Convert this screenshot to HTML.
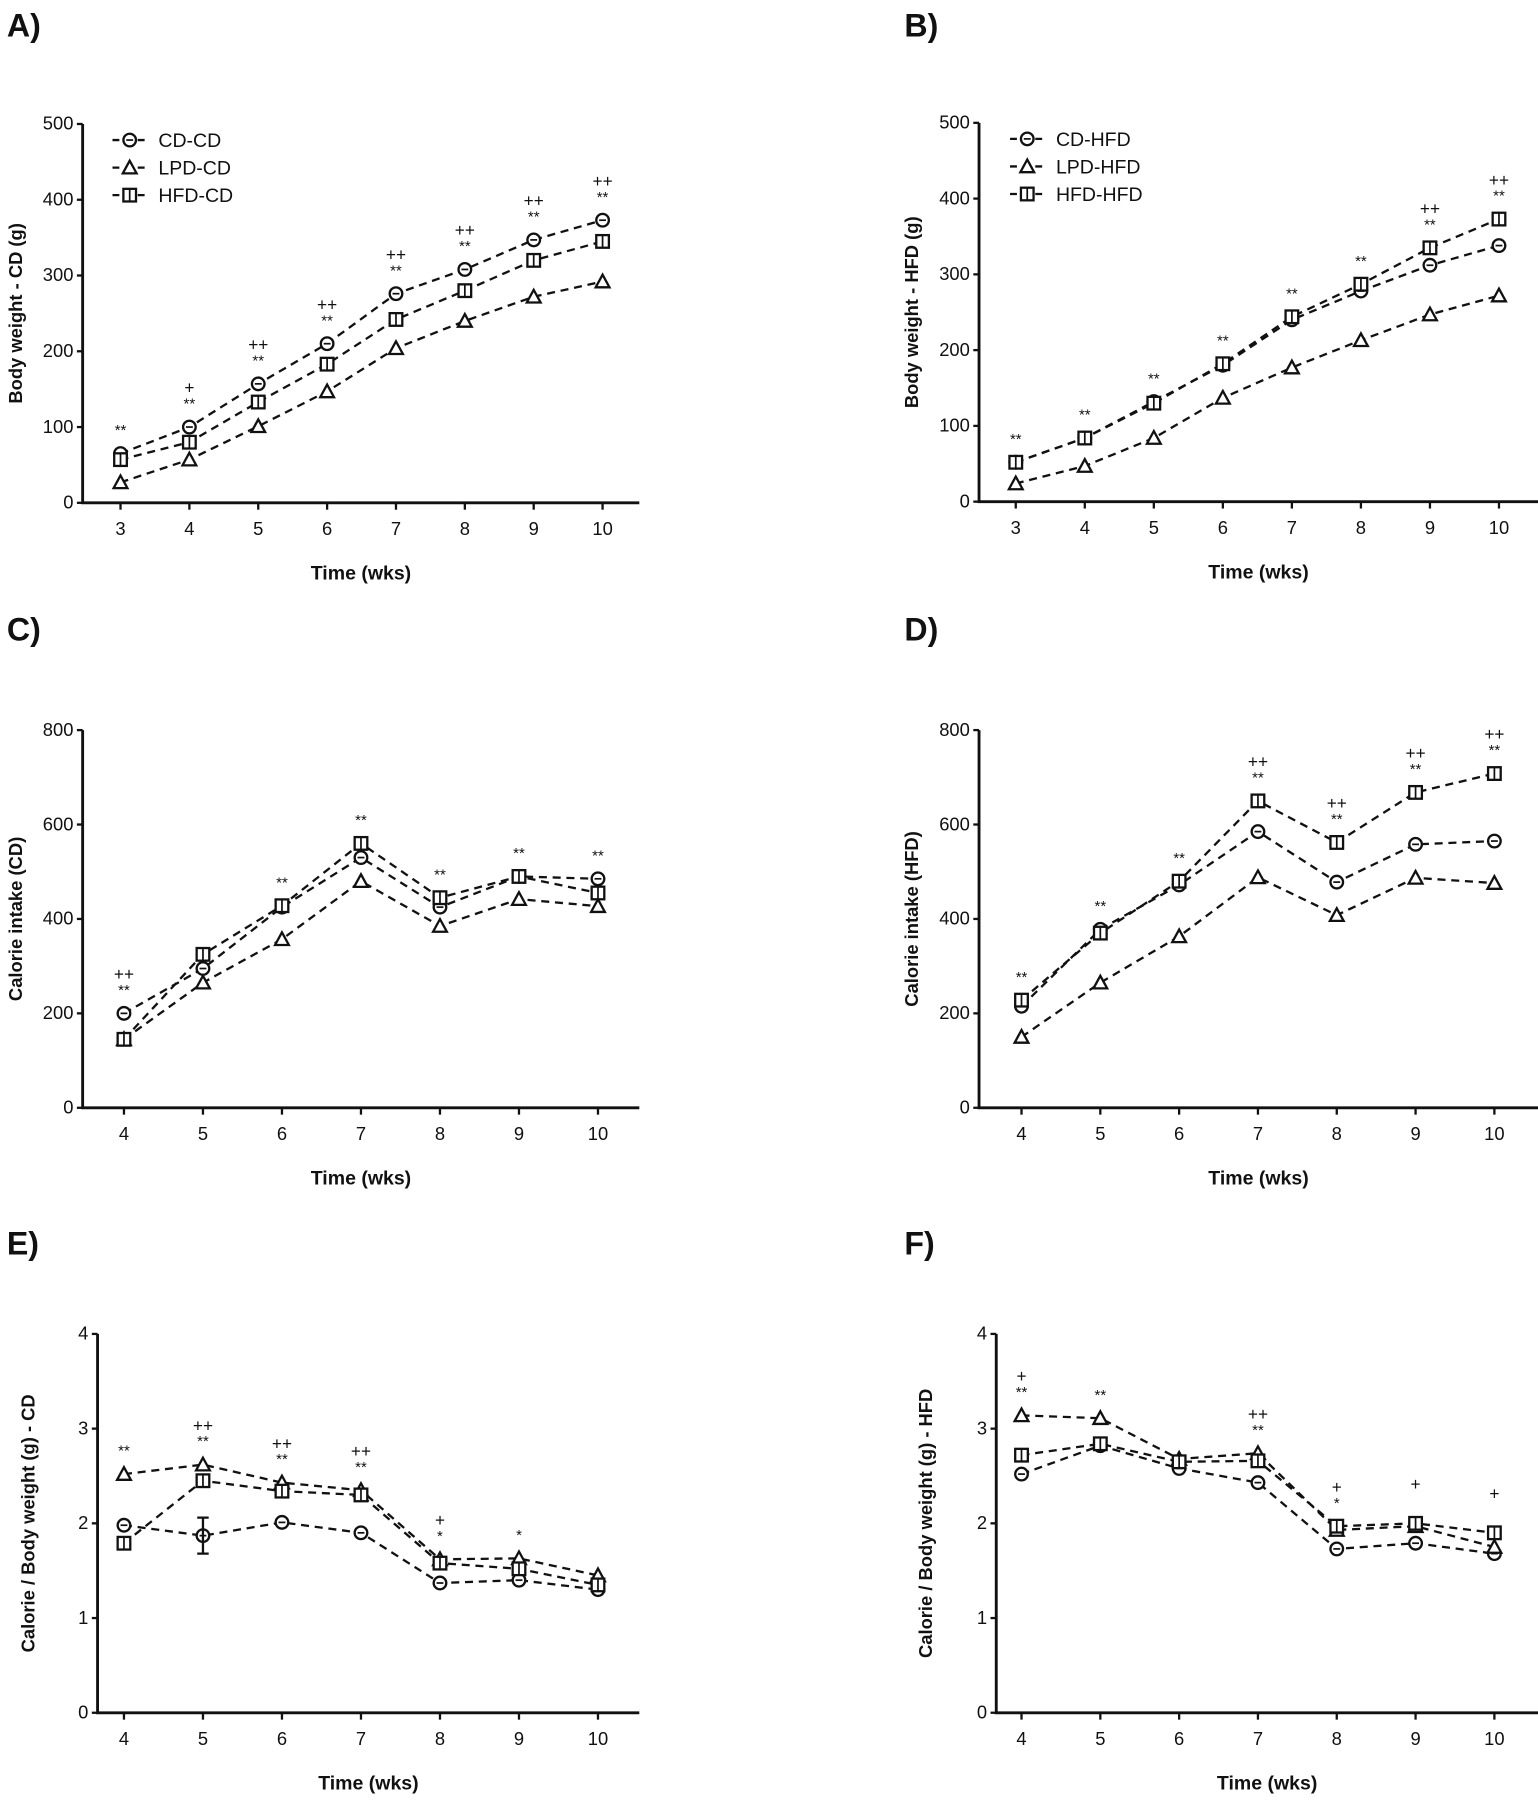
<!DOCTYPE html>
<html><head><meta charset="utf-8"><style>
html,body{margin:0;padding:0;background:#fff}
svg{display:block}
text{font-family:"Liberation Sans",sans-serif;fill:#111}
</style></head><body>
<svg id="fig" width="1538" height="1800" viewBox="0 0 1340 1568" preserveAspectRatio="none" xmlns="http://www.w3.org/2000/svg"></svg>
<script>
// ---- data ----
const weeksAB = [3,4,5,6,7,8,9,10];
const weeksCF = [4,5,6,7,8,9,10];
const aCD = [65,100,157,210,276,308,347,373];
const aLPD = [27,57,101,147,204,240,272,292];
const aHFD = [57,80,133,183,242,280,320,345];
const bCD = [52,84,132,180,240,278,312,338];
const bLPD = [24,47,84,137,177,213,247,272];
const bHFD = [52,84,130,182,244,287,335,373];
const cCD = [200,295,425,530,425,490,485];
const cLPD = [145,265,357,480,385,442,427];
const cHFD = [145,325,428,560,445,490,455];
const dCD = [215,378,472,585,478,558,565];
const dLPD = [150,265,363,488,408,487,476];
const dHFD = [228,370,480,650,562,668,708];
const eCD = [1.98,1.87,2.01,1.90,1.37,1.40,1.30];
const eLPD = [2.52,2.62,2.43,2.35,1.62,1.63,1.45];
const eHFD = [1.79,2.45,2.34,2.30,1.58,1.52,1.35];
const fCD = [2.52,2.82,2.58,2.43,1.73,1.79,1.68];
const fLPD = [3.14,3.11,2.68,2.74,1.93,1.97,1.75];
const fHFD = [2.72,2.84,2.65,2.66,1.97,2.00,1.90];
const aNotes = [["","**"],["+","**"],["++","**"],["++","**"],["++","**"],["++","**"],["++","**"],["++","**"]];
const bNotes = [["","**"],["","**"],["","**"],["","**"],["","**"],["","**"],["++","**"],["++","**"]];
const cNotes = [["++","**"],["",""],["","**"],["","**"],["","**"],["","**"],["","**"]];
const dNotes = [["","**"],["","**"],["","**"],["++","**"],["++","**"],["++","**"],["++","**"]];
const eNotes = [["","**"],["++","**"],["++","**"],["++","**"],["+","*"],["","*"],["",""]];
const fNotes = [["+","**"],["","**"],["",""],["++","**"],["+","*"],["+",""],["+",""]];
const ticksAB = [0,100,200,300,400,500];
const ticksCD = [0,200,400,600,800];
const ticksEF = [0,1,2,3,4];

const NS="http://www.w3.org/2000/svg";
const svg=document.getElementById('fig');
function el(tag,attrs,parent){const e=document.createElementNS(NS,tag);for(const k in attrs)e.setAttribute(k,attrs[k]);(parent||svg).appendChild(e);return e;}
function txt(s,attrs,parent){const t=el('text',attrs,parent);t.textContent=s;return t;}

function marker(g,type,x,y){
  if(type==='circle'){el('circle',{cx:x,cy:y,r:5.5,fill:'#fff',stroke:'#111','stroke-width':2},g);el('line',{x1:x-3,y1:y,x2:x+3,y2:y,stroke:'#111','stroke-width':1.5},g);}
  else if(type==='tri'){el('polygon',{points:`${x},${y-6} ${x-6},${y+5} ${x+6},${y+5}`,fill:'#fff',stroke:'#111','stroke-width':2},g);}
  else {el('rect',{x:x-5.5,y:y-5.5,width:11,height:11,fill:'#fff',stroke:'#111','stroke-width':2},g);el('line',{x1:x,y1:y-5,x2:x,y2:y+5,stroke:'#111','stroke-width':1.5},g);}
}

function panel(p){
  const g=el('g',{});
  
  
  const xs=v=>p.x0+(v-p.w0)/(p.w1-p.w0)*(p.x1-p.x0);
  const ys=v=>p.yb-(v/p.ymax)*(p.yb-p.yt);
  const lab=txt(p.letter,{x:p.lx,y:p.ly,'font-size':28,'font-weight':'bold'},g);
  
  const ax=el('path',{d:`M${p.ax},${p.yt} V${p.yb} H${p.axEnd}`,fill:'none',stroke:'#111','stroke-width':2.5},g);
  
  p.ticks.forEach(t=>{
    el('line',{x1:p.ax-5,x2:p.ax,y1:ys(t),y2:ys(t),stroke:'#111','stroke-width':2},g);
    const tt=txt(String(t),{x:p.ax-8,y:ys(t)+5,'font-size':16,'text-anchor':'end'},g);
    
  });
  p.weeks.forEach(w=>{
    el('line',{x1:xs(w),x2:xs(w),y1:p.yb,y2:p.yb+6,stroke:'#111','stroke-width':2},g);
    const tt=txt(String(w),{x:xs(w),y:p.yb+28,'font-size':16,'text-anchor':'middle'},g);
    
  });
  const xt=txt('Time (wks)',{x:(p.ax+p.axEnd)/2,y:p.yb+67,'font-size':17,'font-weight':'bold','text-anchor':'middle'},g);
  
  const cy=(p.yt+p.yb)/2;
  const yt=txt(p.ytitle,{x:p.ytx,y:cy,'font-size':16,'font-weight':'bold','text-anchor':'middle',transform:`rotate(-90 ${p.ytx} ${cy})`},g);
  
  const types=['circle','tri','square'];
  p.series.forEach((s,i)=>{
    const sg=el('g',{},g);
    
    
    const pts=s.map((v,j)=>`${xs(p.weeks[j])},${ys(v)}`).join(' ');
    el('polyline',{points:pts,fill:'none',stroke:'#111','stroke-width':2,'stroke-dasharray':'7,5'},sg);
    s.forEach((v,j)=>{
      const mg=el('g',{},sg);
      
      
      marker(mg,types[i],xs(p.weeks[j]),ys(v));
    });
  });
  if(p.err){const [si,j,lo,hi]=p.err;const x=xs(p.weeks[j]);
    el('path',{d:`M${x},${ys(lo)}V${ys(hi)}M${x-5},${ys(lo)}h10M${x-5},${ys(hi)}h10`,stroke:'#111','stroke-width':2,fill:'none'},g);}
  p.notes.forEach((n,j)=>{
    const top=Math.max(...p.series.map(s=>s[j]));
    const y=ys(top)-16;
    const a=txt(n[1],{x:xs(p.weeks[j]),y:y,'font-size':13,'text-anchor':'middle'},g);
    
    const b=txt(n[0],{x:xs(p.weeks[j]),y:y-13,'font-size':15,'text-anchor':'middle'},g);
    
  });
  if(p.legend){
    const lg=el('g',{},g);
    
    p.names.forEach((nm,i)=>{
      const y=p.legend[1]+i*24;
      const eg=el('g',{},lg);
      
      el('line',{x1:p.legend[0],x2:p.legend[0]+30,y1:y,y2:y,stroke:'#111','stroke-width':2,'stroke-dasharray':'6,5'},eg);
      marker(eg,types[i],p.legend[0]+15,y);
      txt(nm,{x:p.legend[0]+40,y:y+6,'font-size':17},eg);
    });
  }
}
panel({name:'panel-a',letter:'A)',lx:6,ly:32,ax:72,axEnd:557,yt:108,yb:438,ymax:500,x0:105,x1:525,w0:3,w1:10,weeks:weeksAB,ticks:ticksAB,ytitle:'Body weight - CD (g)',ytx:19,series:[aCD,aLPD,aHFD],names:['CD-CD','LPD-CD','HFD-CD'],notes:aNotes,legend:[98,122]});
panel({name:'panel-b',letter:'B)',lx:788,ly:32,ax:853,axEnd:1340,yt:107,yb:437,ymax:500,x0:885,x1:1306,w0:3,w1:10,weeks:weeksAB,ticks:ticksAB,ytitle:'Body weight - HFD (g)',ytx:800,series:[bCD,bLPD,bHFD],names:['CD-HFD','LPD-HFD','HFD-HFD'],notes:bNotes,legend:[880,121]});
panel({name:'panel-c',letter:'C)',lx:6,ly:558,ax:72,axEnd:557,yt:636,yb:965,ymax:800,x0:108,x1:521,w0:4,w1:10,weeks:weeksCF,ticks:ticksCD,ytitle:'Calorie intake (CD)',ytx:19,series:[cCD,cLPD,cHFD],names:['CD-CD','LPD-CD','HFD-CD'],notes:cNotes});
panel({name:'panel-d',letter:'D)',lx:788,ly:558,ax:853,axEnd:1340,yt:636,yb:965,ymax:800,x0:890,x1:1302,w0:4,w1:10,weeks:weeksCF,ticks:ticksCD,ytitle:'Calorie intake (HFD)',ytx:800,series:[dCD,dLPD,dHFD],names:['CD-HFD','LPD-HFD','HFD-HFD'],notes:dNotes});
panel({name:'panel-e',letter:'E)',lx:6,ly:1093,ax:85,axEnd:557,yt:1162,yb:1492,ymax:4,x0:108,x1:521,w0:4,w1:10,weeks:weeksCF,ticks:ticksEF,ytitle:'Calorie / Body weight (g) - CD',ytx:30,series:[eCD,eLPD,eHFD],names:['CD-CD','LPD-CD','HFD-CD'],notes:eNotes,err:[0,1,1.68,2.06]});
panel({name:'panel-f',letter:'F)',lx:788,ly:1093,ax:868,axEnd:1340,yt:1162,yb:1492,ymax:4,x0:890,x1:1302,w0:4,w1:10,weeks:weeksCF,ticks:ticksEF,ytitle:'Calorie / Body weight (g) - HFD',ytx:812,series:[fCD,fLPD,fHFD],names:['CD-HFD','LPD-HFD','HFD-HFD'],notes:fNotes});
</script>
</body></html>
